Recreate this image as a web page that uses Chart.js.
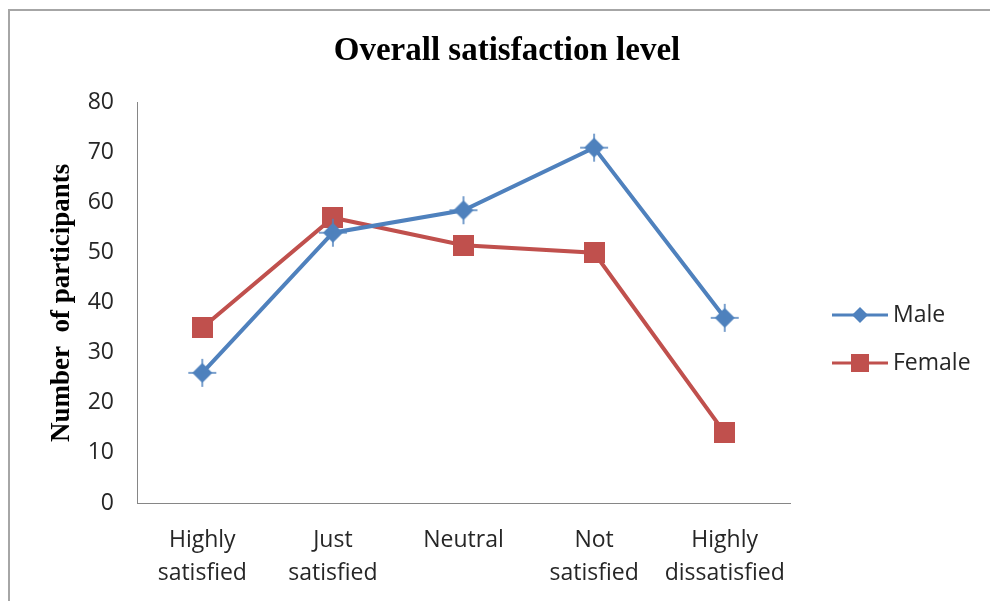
<!DOCTYPE html>
<html>
<head>
<meta charset="utf-8">
<script src="https://cdn.jsdelivr.net/npm/chart.js@4.4.0/dist/chart.umd.min.js"></script>
<style>
  html, body { margin: 0; padding: 0; background: #fff; overflow: hidden; }
  .frame {
    position: absolute; left: 8px; top: 9px; width: 1100px; height: 700px;
    border-left: 2px solid #a6a6a6; border-top: 2px solid #a6a6a6;
  }
  .chart-box { position: absolute; left: 10px; top: 11px; width: 994px; height: 590px; }
</style>
</head>
<body>
<div class="frame"></div>
<div class="chart-box"><canvas id="satChart"></canvas></div>
<script>
// Dados do gráfico
const categories = [['Highly', 'satisfied'], ['Just', 'satisfied'], 'Neutral', ['Not', 'satisfied'], ['Highly', 'dissatisfied']];
const maleValues = [26, 54, 58.5, 71, 37];
const femaleValues = [35, 57, 51.5, 50, 14];
const yTicks = { min: 0, max: 80, step: 10 };

const BLUE = '#4f81bd';
const RED = '#c0504d';
const LABEL_FONT = 'Open Sans';

// Marcador losango com pontas finas (estilo Excel)
function makeDiamond(half, spike, color) {
    const size = Math.ceil(spike * 2 + 2);
    const c = document.createElement('canvas');
    c.width = size; c.height = size;
    const ctx = c.getContext('2d');
    const m = size / 2;
    ctx.fillStyle = color;
    ctx.beginPath();
    ctx.moveTo(m - half, m);
    ctx.lineTo(m, m - half);
    ctx.lineTo(m + half, m);
    ctx.lineTo(m, m + half);
    ctx.closePath();
    ctx.fill();
    if (spike > half) {
        ctx.strokeStyle = color;
        ctx.lineWidth = 1.5;
        ctx.beginPath();
        ctx.moveTo(m - spike, m); ctx.lineTo(m + spike, m);
        ctx.moveTo(m, m - spike); ctx.lineTo(m, m + spike);
        ctx.stroke();
    }
    return c;
}

function makeSquare(side, color) {
    const c = document.createElement('canvas');
    c.width = side; c.height = side;
    const ctx = c.getContext('2d');
    ctx.fillStyle = color;
    ctx.fillRect(0, 0, side, side);
    return c;
}

const maleMarker = makeDiamond(10, 14, BLUE);
const femaleMarker = makeSquare(21, RED);
const legendMarkers = [makeDiamond(8, 8, BLUE), makeSquare(18, RED)];

// Legenda desenhada à direita
const sideLegend = {
    id: 'sideLegend',
    afterDraw(chart) {
        const ctx = chart.ctx;
        const x0 = 822, x1 = 878;
        chart.data.datasets.forEach((ds, i) => {
            const y = 304 + i * 48;
            ctx.save();
            ctx.strokeStyle = ds.borderColor;
            ctx.lineWidth = 3;
            ctx.beginPath();
            ctx.moveTo(x0, y);
            ctx.lineTo(x1, y);
            ctx.stroke();
            const mk = legendMarkers[i];
            ctx.drawImage(mk, (x0 + x1) / 2 - mk.width / 2, y - mk.height / 2);
            ctx.fillStyle = '#262626';
            ctx.font = '23px "' + LABEL_FONT + '"';
            ctx.textBaseline = 'middle';
            ctx.fillText(ds.label, x1 + 5, y);
            ctx.restore();
        });
    }
};

const ctx = document.getElementById('satChart').getContext('2d');
new Chart(ctx, {
    type: 'line',
    data: {
        labels: categories,
        datasets: [{
            label: 'Male',
            data: maleValues,
            borderColor: BLUE,
            backgroundColor: BLUE,
            borderWidth: 4,
            pointStyle: maleMarker,
            tension: 0
        }, {
            label: 'Female',
            data: femaleValues,
            borderColor: RED,
            backgroundColor: RED,
            borderWidth: 4,
            pointStyle: femaleMarker,
            tension: 0
        }]
    },
    options: {
        responsive: true,
        maintainAspectRatio: false,
        animation: false,
        layout: { padding: 0 },
        plugins: {
            legend: { display: false },
            tooltip: { enabled: false },
            title: {
                display: true,
                text: 'Overall satisfaction level',
                color: '#000',
                font: { family: 'Liberation Serif', size: 33, weight: 'bold' },
                padding: { top: 21, bottom: 31 }
            }
        },
        scales: {
            x: {
                offset: true,
                grid: { display: false, drawTicks: false },
                border: { display: true, color: '#868686', width: 1 },
                ticks: {
                    color: '#262626',
                    font: { family: LABEL_FONT, size: 23, lineHeight: 1.435 },
                    padding: 21,
                    maxRotation: 0,
                    autoSkip: false
                },
                afterFit(scale) { scale.height = 98; }
            },
            y: {
                min: yTicks.min,
                max: yTicks.max,
                grid: { display: false, drawTicks: false },
                border: { display: true, color: '#868686', width: 1 },
                ticks: {
                    stepSize: yTicks.step,
                    color: '#262626',
                    font: { family: LABEL_FONT, size: 23 },
                    padding: 23
                },
                title: {
                    display: true,
                    text: 'Number  of participants',
                    color: '#000',
                    font: { family: 'Liberation Serif', size: 27, weight: 'bold' },
                    padding: { top: 36, bottom: 0 }
                },
                afterFit(scale) { scale.width = 127; }
            },
            // espaço reservado para a legenda
            legendSpace: {
                type: 'linear',
                position: 'right',
                display: true,
                grid: { display: false, drawTicks: false },
                border: { display: false },
                ticks: { display: false },
                afterFit(scale) { scale.width = 214; }
            }
        }
    },
    plugins: [sideLegend]
});
</script>
</body>
</html>
